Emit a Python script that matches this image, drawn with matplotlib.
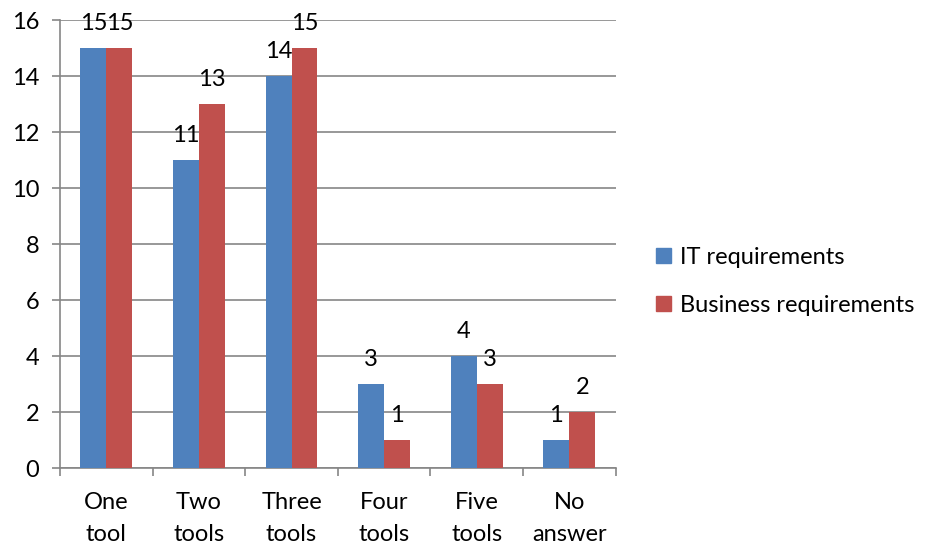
import matplotlib
matplotlib.use("Agg")
import matplotlib.pyplot as plt
import numpy as np
from matplotlib.patches import Patch

categories = ["One\ntool", "Two\ntools", "Three\ntools", "Four\ntools", "Five\ntools", "No\nanswer"]
it_req = [15, 11, 14, 3, 4, 1]
business_req = [15, 13, 15, 1, 3, 2]
series_names = ["IT requirements", "Business requirements"]

blue = "#4F81BD"
red = "#C0504D"
grid_col = "#868686"
fs = 17

plt.rcParams["font.family"] = ["Lato", "DejaVu Sans"]

fig = plt.figure(figsize=(9.26, 5.47), dpi=100)
ax = fig.add_axes([0.0648, 0.1444, 0.6, 0.8190])

x = np.arange(len(categories))
w = 0.28
b1 = ax.bar(x - w / 2, it_req, w, color=blue, zorder=3)
b2 = ax.bar(x + w / 2, business_req, w, color=red, zorder=3)

for bars, vals in ((b1, it_req), (b2, business_req)):
    for rect, v in zip(bars, vals):
        ax.annotate(str(v), (rect.get_x() + rect.get_width() / 2, v),
                    xytext=(0, 10), textcoords="offset points",
                    ha="center", va="bottom", fontsize=fs, color="black",
                    zorder=4)

ax.set_xlim(-0.5, len(categories) - 0.5)
ax.set_ylim(0, 16)
ax.set_yticks(range(0, 17, 2))
ax.yaxis.grid(True, color=grid_col, linewidth=1.2, zorder=0)
ax.set_axisbelow(True)

ax.set_xticks(np.arange(-0.5, len(categories), 1.0))
ax.set_xticklabels([])
ax.set_xticks(x, minor=True)
ax.set_xticklabels(categories, minor=True, fontsize=fs, linespacing=1.65)
ax.tick_params(axis="x", which="minor", length=0, pad=17)
ax.tick_params(axis="x", which="major", length=6, color=grid_col, width=1.2)
ax.tick_params(axis="y", length=6, color=grid_col, width=1.2, labelsize=fs, pad=9)

for side in ("top", "right"):
    ax.spines[side].set_visible(False)
for side in ("left", "bottom"):
    ax.spines[side].set_color(grid_col)
    ax.spines[side].set_linewidth(1.2)

handles = [Patch(color=blue), Patch(color=red)]
fig.legend(handles, series_names, loc="center left", bbox_to_anchor=(0.686, 0.486),
           frameon=False, fontsize=fs, handlelength=0.6, handleheight=0.6,
           handletextpad=0.4, labelspacing=1.15)

fig.savefig("out.png", dpi=100)
